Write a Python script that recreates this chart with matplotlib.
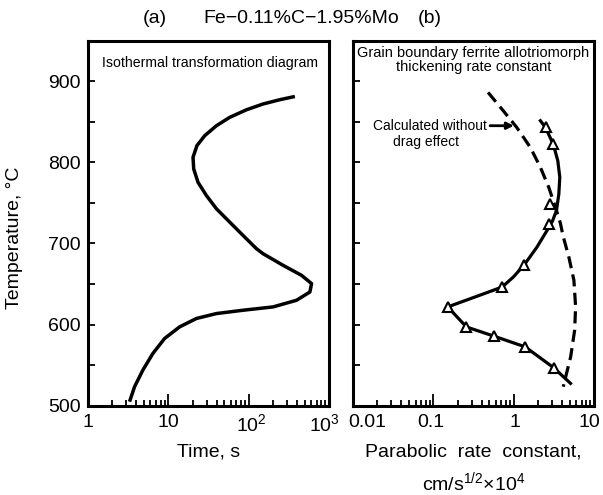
import matplotlib
matplotlib.use("Agg")
import matplotlib.pyplot as plt
from matplotlib.ticker import FixedLocator, LogLocator, NullFormatter
import numpy as np

plt.rcParams["font.family"] = ["Liberation Sans", "DejaVu Sans"]
plt.rcParams["mathtext.fontset"] = "custom"
plt.rcParams["mathtext.rm"] = "Liberation Sans"

# (a) isothermal transformation diagram: time (s) vs temperature (C)
ttt_time = [376, 244, 151, 94, 58, 39.7, 28.4, 22.7, 20.3, 20.7, 23.4, 29.8, 39.7, 58.1,
            85.1, 125, 151, 269, 455, 607, 578, 394, 201, 85.1, 39.7, 22.3, 13.8, 9.0,
            6.43, 4.82, 3.80, 3.29]
ttt_temp = [881.5, 877.5, 872.2, 865.1, 855.7, 845.4, 833.1, 820.8, 806.4, 792.1, 775.6,
            759.2, 742.9, 726.4, 710.0, 693.6, 687.4, 673.0, 660.7, 650.5, 640.1, 629.9,
            621.7, 617.6, 613.5, 607.4, 597.0, 582.8, 564.3, 543.7, 523.2, 504.7]

# (b) measured thickening rate constant (cm/s^1/2 x 1e4)
meas_k = [2.55, 3.10, 2.86, 2.73, 1.36, 0.72, 0.151, 0.258, 0.568, 1.39, 3.15]
meas_T = [843.4, 822.9, 749, 724.4, 673.9, 646.3, 621.7, 597, 585.6, 572.4, 546.6]

# line drawn through the measurements
fit_k = [2.15, 2.48, 3.10, 3.54, 3.75, 3.65, 3.41, 3.05, 2.6, 1.95, 1.36, 0.99, 0.72,
         0.378, 0.151, 0.258, 0.568, 1.39, 3.15, 5.1]
fit_T = [851.6, 843.4, 822.9, 802.3, 781.8, 761.3, 740.8, 728, 716.1, 695.6, 673.9, 658.6,
         646.3, 636.1, 621.7, 597, 585.6, 572.4, 546.6, 527.3]

# calculated without drag effect (dashed)
calc_k = [0.48, 0.74, 1.09, 1.61, 2.15, 2.73, 3.31, 3.83, 4.1, 4.86, 5.62, 5.9, 5.74,
          5.12, 4.14]
calc_T = [886.5, 864, 843.4, 818.7, 794.1, 769.5, 744.8, 724.4, 710, 683.3, 654.6, 621.7,
          593, 560.1, 523.2]

a_ticks = [1, 10, 100, 1000]
a_labels = ["1", "10", "$10^2$", "$10^3$"]
a_shift = [0, 0, 2, -3]
b_ticks = [0.01, 0.1, 1, 10]
b_labels = ["0.01", "0.1", "1", "10"]
b_shift = [10, -2, 1, -3]

fig = plt.figure(figsize=(6.03, 4.95), dpi=100)
ax_a = fig.add_axes([0.1459, 0.1808, 0.3997, 0.7364])
ax_b = fig.add_axes([0.5854, 0.1808, 0.3997, 0.7364])

for ax in (ax_a, ax_b):
    ax.set_xscale("log")
    ax.set_ylim(500, 950)
    for s in ax.spines.values():
        s.set_linewidth(2.2)
    ax.tick_params(axis="both", which="both", direction="in", top=False, right=False,
                   labelsize=14, width=1.3)
    ax.tick_params(axis="x", which="major", length=9, labelbottom=False)
    ax.tick_params(axis="x", which="minor", length=4.5)
    ax.tick_params(axis="y", which="both", length=5, pad=5)
    ax.yaxis.set_major_locator(FixedLocator([500, 600, 700, 800, 900]))
    ax.yaxis.set_minor_locator(FixedLocator([550, 650, 750, 850]))
    ax.xaxis.set_minor_locator(LogLocator(base=10, subs=np.arange(2, 10)))
    ax.xaxis.set_minor_formatter(NullFormatter())


def tick_labels(ax, ticks, labels, shifts):
    for v, lab, dx in zip(ticks, labels, shifts):
        ax.annotate(lab, xy=(v, 0), xycoords=ax.get_xaxis_transform(),
                    xytext=(dx, -6), textcoords="offset points",
                    ha="center", va="top", fontsize=14)


# panel (a)
ax_a.set_xlim(1, 1000)
ax_a.set_xticks(a_ticks)
tick_labels(ax_a, a_ticks, a_labels, a_shift)
ax_a.plot(ttt_time, ttt_temp, color="black", lw=2.5, solid_capstyle="butt")
ax_a.set_xlabel("Time, s", fontsize=14, labelpad=24)
ax_a.set_ylabel("Temperature, \u00b0C", fontsize=14)
ax_a.yaxis.set_label_coords(-0.27, 0.46)
ax_a.text(0.06, 0.96, "Isothermal transformation diagram", transform=ax_a.transAxes,
          fontsize=10.2, va="top", ha="left")

# panel (b)
ax_b.set_xlim(0.01, 10)
ax_b.set_xticks(b_ticks)
tick_labels(ax_b, b_ticks, b_labels, b_shift)
ax_b.tick_params(axis="y", labelleft=False)
ax_b.plot(calc_k, calc_T, color="black", lw=2.3, dashes=(3.8, 2.0))
ax_b.plot(fit_k, fit_T, color="black", lw=2.3)
ax_b.plot(meas_k, meas_T, ls="none", marker="^", ms=7.5, mfc="white", mec="black", mew=1.5)
ax_b.set_xlabel("Parabolic  rate  constant,\ncm/s$^{1/2}$\u00d710$^4$", fontsize=14,
                labelpad=24, linespacing=1.5)
ax_b.text(0.5, 0.985, "Grain boundary ferrite allotriomorph\nthickening rate constant",
          transform=ax_b.transAxes, fontsize=10.5, va="top", ha="center", linespacing=1.0)
ax_b.annotate("", xy=(1.09, 845.4), xytext=(0.47, 845.4),
              arrowprops=dict(arrowstyle="-|>", color="black", lw=2, mutation_scale=10))
ax_b.text(0.47, 845, "Calculated without", fontsize=10, ha="right", va="center")
ax_b.text(0.08, 825, "drag effect", fontsize=10, ha="center", va="center")

fig.text(0.257, 0.963, "(a)", fontsize=14, ha="center", va="center")
fig.text(0.50, 0.963, "Fe\u22120.11%C\u22121.95%Mo", fontsize=14, ha="center", va="center")
fig.text(0.713, 0.963, "(b)", fontsize=14, ha="center", va="center")

fig.savefig("out.png", dpi=100)
